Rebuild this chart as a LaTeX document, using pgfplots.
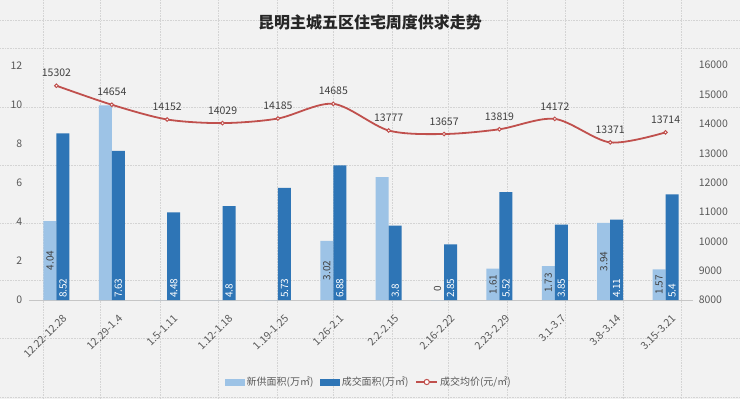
\documentclass[border=0pt]{standalone}
\usepackage{pgfplots}
\pgfplotsset{compat=1.18}
\usepackage{pgfplotstable}
\usepackage{fontspec}
\setmainfont{Noto Sans CJK SC}
\definecolor{bg}{HTML}{F2F2F2}
\definecolor{lb}{HTML}{9DC3E6}
\definecolor{db}{HTML}{2E75B6}
\definecolor{rl}{HTML}{C0504D}
\definecolor{tk}{HTML}{595959}
\definecolor{lab}{HTML}{404040}
\definecolor{gd}{HTML}{D4D4D4}

\pgfplotstableread{
x n d p
0 4.04 8.52 15302
1 9.95 7.63 14654
2 0 4.48 14152
3 0 4.8 14029
4 0 5.73 14185
5 3.02 6.88 14685
6 6.28 3.8 13777
7 0 2.85 13657
8 1.61 5.52 13819
9 1.73 3.85 14172
10 3.94 4.11 13371
11 1.57 5.4 13714
}\data

\pgfplotstableread{
x y lab
0 2.02 4.04
5 1.51 3.02
7 0.6 0
8 0.805 1.61
9 0.865 1.73
10 1.97 3.94
11 0.785 1.57
}\lightlab

\begin{document}
\begin{tikzpicture}[x=1pt,y=1pt]
\fill[bg] (0,0) rectangle (740,399);
% faint background dotted pattern
\foreach \gx in {43,100,160,218,277,333,392,448,507,565,623,682}
  \draw[gd, densely dotted, line width=0.6pt] (\gx,0) -- (\gx,399);
\foreach \gy in {20,48,107,165,223,280,338,397}
  \draw[gd, densely dotted, line width=0.6pt] (0,399-\gy) -- (740,399-\gy);
\node[font=\bfseries\fontsize{16}{18}\selectfont, text=black!85] at (370,377) {昆明主城五区住宅周度供求走势};
\begin{axis}[
  at={(28.5pt,99pt)}, anchor=south west,
  width=665pt, height=235pt, scale only axis,
  xmin=-0.5, xmax=11.5, ymin=0, ymax=12,
  ytick={0,2,...,12},
  xtick={0,...,11},
  xticklabels={12.22-12.28,12.29-1.4,1.5-1.11,1.12-1.18,1.19-1.25,1.26-2.1,2.2-2.15,2.16-2.22,2.23-2.29,3.1-3.7,3.8-3.14,3.15-3.21},
  axis y line*=left, axis x line*=bottom,
  y axis line style={draw=none},
  x axis line style={draw=gray!45, line width=0.6pt, -},
  major tick length=0pt,
  /pgf/number format/assume math mode=true,
  tick label style={font=\fontsize{10.5}{12}\selectfont, text=tk},
  yticklabel style={anchor=east, xshift=-3pt},
  xticklabel style={xshift=6pt, yshift=-12pt, rotate=45, anchor=north east, inner sep=1pt},
  legend style={at={(0.512,-0.349)}, anchor=center, draw=none, fill=none,
    font=\fontsize{10}{12}\selectfont, text=tk, legend columns=3,
    /tikz/every even column/.append style={column sep=5pt}},
]
\addlegendimage{legend image code/.code={\fill[lb] (0pt,-3pt) rectangle (19pt,3pt);}}
\addlegendentry{新供面积(万㎡)}
\addlegendimage{legend image code/.code={\fill[db] (0pt,-3pt) rectangle (19pt,3pt);}}
\addlegendentry{成交面积(万㎡)}
\addlegendimage{legend image code/.code={\draw[rl, line width=1.6pt] (0pt,0pt) -- (21pt,0pt); \draw[rl, line width=1pt, fill=white] (10.5pt,0pt) circle (2.6pt);}}
\addlegendentry{成交均价(元/㎡)}
\addplot[ybar, bar width=13pt, bar shift=-6.5pt, fill=lb, draw=none, forget plot] table[x=x, y=n] {\data};
\addplot[ybar, bar width=13pt, bar shift=6.5pt, fill=db, draw=none, forget plot] table[x=x, y=d] {\data};
% dark bar labels at base
\addplot[draw=none, mark=none, forget plot, nodes near coords, point meta=explicit,
  nodes near coords style={xshift=6.5pt, rotate=90, anchor=west, text=white, inner sep=1pt, font=\fontsize{10}{12}\selectfont,
    /pgf/number format/fixed, /pgf/number format/precision=2}]
  table[x=x, y expr=0.05, meta=d] {\data};
% light bar labels centered
\addplot[draw=none, mark=none, forget plot, nodes near coords={\pgfplotspointmeta}, point meta=explicit symbolic,
  nodes near coords style={xshift=-6.5pt, rotate=90, anchor=center, text=lab, inner sep=1pt, font=\fontsize{10}{12}\selectfont}]
  table[x=x, y=y, meta=lab] {\lightlab};
\end{axis}
\begin{axis}[
  at={(28.5pt,99pt)}, anchor=south west,
  width=665pt, height=235pt, scale only axis,
  xmin=-0.5, xmax=11.5, ymin=8000, ymax=16000,
  ytick={8000,9000,...,16000},
  scaled y ticks=false,
  axis y line*=right, axis x line=none,
  y axis line style={draw=none},
  major tick length=0pt,
  /pgf/number format/assume math mode=true,
  /pgf/number format/1000 sep={},
  yticklabel={\pgfmathprintnumber[fixed,1000 sep={},assume math mode=true]{\tick}},
  tick label style={font=\fontsize{10.5}{12}\selectfont, text=tk},
  yticklabel style={anchor=west, xshift=2pt},
]
\addplot[rl, line width=1.8pt, smooth, mark=*, mark options={fill=white, draw=rl, line width=1pt, scale=0.9},
  nodes near coords, point meta=explicit,
  nodes near coords style={text=lab, font=\fontsize{10.5}{12}\selectfont, anchor=south, yshift=5pt, /pgf/number format/1000 sep={}, /pgf/number format/assume math mode=true}]
  table[x=x, y=p, meta=p] {\data};
\end{axis}
\end{tikzpicture}
\end{document}
